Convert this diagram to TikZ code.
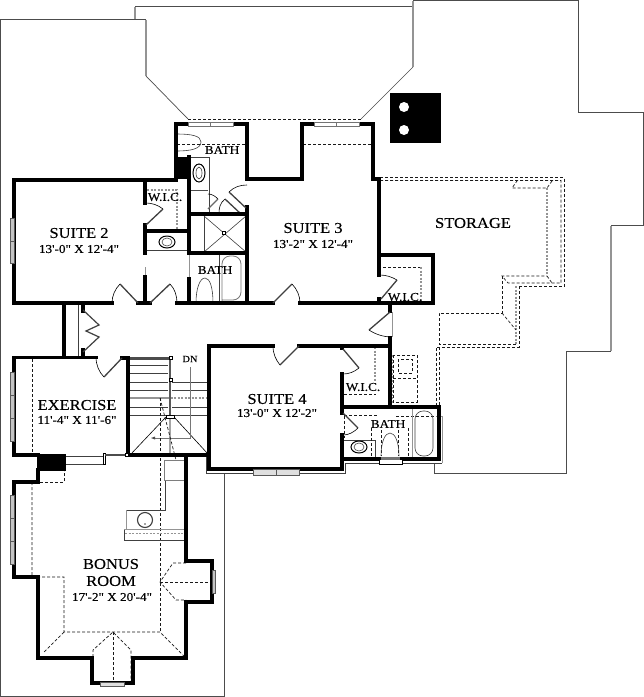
\documentclass[tikz,border=0pt]{standalone}
\usepackage{fontspec}
\newfontfamily\planfont[FakeStretch=1.1,FakeBold=0.25]{Liberation Serif}
\usetikzlibrary{calc}
\definecolor{rf}{gray}{0.3}
\definecolor{gw}{gray}{0.58}
\tikzset{
 wall/.style={line width=3.6pt,black,line join=miter,line cap=rect},
 doorleaf/.style={line width=1.3pt,black!75},
 swing/.style={line width=0.6pt,black},
 thin/.style={line width=0.6pt,black!75},
 roof/.style={line width=0.9pt,rf},
 roofg/.style={line width=1.2pt,gw},
 hid/.style={line width=0.7pt,black!90,dash pattern=on 3pt off 2pt},
 gdash/.style={line width=1.3pt,gw,dash pattern=on 2pt off 1.5pt},
 grayline/.style={line width=1pt,gw},
 win/.style={line width=0.6pt,black!65,fill=gw!55},
 winw/.style={line width=0.8pt,black!55,fill=white},
 bigl/.style={font=\planfont\fontsize{15}{15}\selectfont,inner sep=0pt},
 diml/.style={font=\planfont\fontsize{12}{12}\selectfont,inner sep=0pt},
 smalll/.style={font=\planfont\fontsize{12}{12}\selectfont,inner sep=0pt},
 dnl/.style={font=\planfont\fontsize{9.5}{10}\selectfont,inner sep=0pt},
 post/.style={line width=0.5pt,black,fill=white},
}
\begin{document}
\begin{tikzpicture}[x=1pt,y=-1pt]
\useasboundingbox (0,0) rectangle (644,697);
\fill[white] (0,0) rectangle (644,697);
% ---- roof outline
\draw[roof] (224,473) -- (224,696.5) -- (0.5,696.5) -- (0.5,19.5) -- (146,19.5);
\draw[roofg] (146,19.5) -- (146,76);
\draw[roof,line width=0.7pt] (146,76) -- (188,119);
\draw[hid] (188,119) -- (361,119);
\draw[roof,line width=0.6pt] (361,119) -- (413,67);
\draw[roofg] (135,19) -- (135,6.5);
\draw[roof] (135,6.5) -- (413,6.5);
\draw[roofg] (413,67) -- (413,0.5);
\draw[roof] (413,0.5) -- (578.5,0.5) -- (578.5,112.5) -- (643.5,112.5) -- (643.5,225.5) -- (611,225.5);
\draw[roofg] (611,225.5) -- (611,351);
\draw[roof] (611,351) -- (566.5,351) -- (566.5,473) -- (434,473) -- (434,463);
\draw[thin] (206,457) -- (206,473) -- (345,473) -- (345,463) -- (442,463);
\draw[grayline] (442,463) -- (442,416) -- (436,416);
% ---- chimney
\fill[black] (390,93) rectangle (441,143);
\fill[white] (404,107) circle (5) (404,130) circle (5);
% ---- storage hidden lines
\draw[hid] (380,177.5) -- (564,177.5) -- (564,286) -- (519,286);
\draw[hid] (380,180.5) -- (561,180.5) -- (561,283) -- (508,283) -- (502,276) -- (547,276);
\draw[gdash] (547,188) -- (547,275);
\draw[hid] (552,181) -- (547,188) -- (512,188) -- (517,181);
\draw[hid] (547,276) -- (552,283);
\draw[gdash] (516,286) -- (516,345);
\draw[hid] (519,286) -- (519,347) -- (436,347) -- (436,405);
\draw[hid] (502,276) -- (502,313) -- (439,313) -- (439,344) -- (516,344);
\draw[hid] (502,313) -- (516,330);
\draw[hid] (439.5,347) -- (439.5,405);
% ---- dashed plumbing box
\draw[hid] (393,355) rectangle (417,402);
\draw[hid] (393,378) -- (417,378);
\draw[hid] (398,359) rectangle (412,373);
\draw[gdash] (392,355) -- (392,403);
% ---- thin interior details
\draw[hid] (177,144) -- (247,144);
\draw[hid] (303,144) -- (372,144);
\draw[thin] (177,134) .. controls (192,134) and (201,136) .. (201,142) .. controls (201,149) and (190,151) .. (177,151);
\draw[thin] (190,157.5) -- (209,157.5) -- (209,213);
\draw[line width=1pt] (199,173) ellipse (6 and 9);
\draw[thin] (199,173) ellipse (3 and 6);
\draw[line width=1pt,black!70] (191,190.5) -- (208,190.5);
\draw[thin] (191,212) -- (208,212);
\draw[doorleaf,gw!70!black] (208,209) -- (218,199);
\draw[swing] (218,199) .. controls (215,196) and (212,194) .. (208,194);
\draw[doorleaf] (225,199) -- (241,214);
\draw[swing] (225,199) .. controls (220,203) and (219,208) .. (219,213);
\draw[thin,gw] (219,212) -- (241,212);
\draw[thin] (204,216) -- (204,252);
\draw[thin] (204,216) -- (246,252) (246,216) -- (204,252);
\draw[post] (222.5,231.5) rectangle (225.5,234.5);
\draw[thin] (219,253) -- (219,303);
\draw[line width=0.8pt,gw!80!black,rounded corners=8pt] (222,302) -- (222,256) -- (241,256) -- (241,300) -- (222,300);
\draw[thin] (196,303) .. controls (196,288) and (200,278) .. (205,278) .. controls (210,278) and (213,288) .. (213,303);
\draw[gdash] (147,190) -- (177,190) -- (177,229);
\draw[thin] (145,250) -- (189,250);
\draw[line width=1pt] (167,242) ellipse (8 and 6);
\draw[thin] (167,242) ellipse (5 and 4);
\draw[grayline] (189,253) -- (189,279);
\draw[grayline] (145,267) -- (145,277);
\draw[hid] (383,267) -- (421,267);
\draw[gdash] (421,267) -- (421,301);
\draw[thin] (78,303) -- (78,356);
% ---- stairs
\foreach \yy in {365,373,382,390,407,415} \draw[thin] (130,\yy) -- (168,\yy);
\foreach \yy in {382,390,407,415} \draw[thin] (172,\yy) -- (209,\yy);
\draw[grayline,line width=1.2pt] (130,398) -- (169,398);
\draw[gdash] (160,398) -- (209,398);
\draw[line width=2.4pt,gw!60!black] (170,358) -- (170,416);
\draw[line width=3pt,black!70] (128,358) -- (170,358);
\draw[post] (169.5,356.5) rectangle (172.5,359.5);
\draw[post] (169.5,378.5) rectangle (172.5,381.5);
\draw[post] (166,415) rectangle (174,418);
\draw[line width=0.6pt] (166,417) -- (131,454) (174,417) -- (208,454) (170,418) -- (170,455);
\draw[thin,gw!80!black] (190,367) -- (190,438) -- (154,438);
\fill[black!70] (151,438) -- (155,436.5) -- (155,439.5) -- cycle;
\draw[hid] (160,398) -- (160,632);
\draw[hid] (160,398) -- (176,460);
% ---- bonus details
\draw[line width=0.9pt,gw!85!black] (164,460.5) rectangle (184,480.5);
\draw[thin] (165.5,481) -- (165.5,510) -- (126,510);
\draw[grayline] (126,510) -- (126,529);
\draw[grayline] (124,529.5) -- (185,529.5);
\draw[thin] (124,529.5) -- (124,540) -- (185,540);
\draw[gdash,line width=1pt] (125,533) -- (185,533);
\draw[line width=1.1pt,black!75] (145,520) circle (7.5);
\fill[black!70] (145,524) circle (0.8);
\draw[hid] (32,359) -- (32,455);
\draw[hid] (32,482) -- (32,577) -- (64,577) -- (64,632) -- (160,632) -- (184,656);
\draw[hid] (64,632) -- (44,652);
\draw[hid] (40,482) -- (64,482) -- (64,471);
\draw[hid] (93,682) -- (93,650) -- (113,632) -- (131,650) -- (131,682);
\draw[hid] (113,632) -- (113,682);
\draw[hid] (186,563) -- (173,563) -- (160,582) -- (176,600) -- (186,600);
\draw[hid] (160,582) -- (210,582);
% ---- Suite 4 bath
\draw[thin] (344,440) -- (375,440) -- (375,458);
\draw[line width=1pt] (359,447) ellipse (8 and 6);
\draw[thin] (359,447) ellipse (5 and 4);
\draw[hid] (344,415.5) -- (378,415.5);
\draw[hid] (344,415.5) -- (344,438);
\draw[hid] (396,416) -- (436,416);
\draw[hid] (371,428) -- (371,458) (381,430) -- (381,456) (398,430) -- (398,456) (408,428) -- (408,458);
\draw[thin,line width=0.9pt,gw] (412,408) -- (412,458);
\draw[thin,rounded corners=8pt] (415,456) rectangle (433,411);
\draw[thin] (381,456) .. controls (381,442) and (385,433) .. (390,433) .. controls (395,433) and (399,442) .. (399,456);
% ---- Suite 4 WIC
\draw[gdash] (375,347) -- (375,381);
\draw[hid] (344,394.5) -- (376,394.5);
% ---- walls
\draw[wall] (112,303) -- (14,303) -- (14,180) -- (176,180) -- (176,124) -- (247,124) -- (247,179) -- (302,179) -- (302,124) -- (373,124) -- (373,179) -- (379,179) -- (379,275);
\draw[wall] (379,299) -- (379,303);
\draw[wall] (379,255) -- (433,255) -- (433,303) -- (300,303);
\draw[wall] (273,303) -- (177,303);
\draw[wall] (150,303) -- (138,303);
\draw[wall] (145,180) -- (145,203);
\draw[wall] (145,225) -- (145,253);
\draw[wall] (145,277) -- (145,303);
\draw[wall] (145,231) -- (189,231);
\draw[wall] (189,157) -- (189,253);
\draw[wall] (189,279) -- (189,303);
\draw[wall] (189,214) -- (247,214);
\draw[wall] (189,253) -- (247,253);
\draw[wall] (247,207) -- (247,303);
\fill[black] (176,157) rectangle (190,179);
\draw[wall] (64,303) -- (64,357);
\draw[wall] (83,303) -- (83,311);
\draw[wall] (83,350) -- (83,357);
\draw[wall] (96,357.5) -- (14,357.5) -- (14,455) -- (38,455);
\draw[wall] (122,358) -- (128,358) -- (128,455) -- (209,455);
\fill[black] (37,454) rectangle (66,471);
\draw[wall] (38,470) -- (38,482) -- (14,482) -- (14,577) -- (38,577) -- (38,658) -- (92,658) -- (92,683) -- (133,683) -- (133,658) -- (186,658) -- (186,602) -- (212,602) -- (212,561) -- (186,561) -- (186,455);
\draw[wall] (273,346) -- (209,346) -- (209,469) -- (342,469) -- (342,435);
\draw[wall] (342,413) -- (342,374);
\draw[wall] (342,346) -- (342,348);
\draw[wall] (299,346) -- (390,346);
\draw[wall] (390,338) -- (390,407);
\draw[wall] (390,303) -- (390,311);
\draw[wall] (342,407) -- (439,407) -- (439,459) -- (342,459);
% ---- doors
\draw[doorleaf] (138,303) -- (120,284);
\draw[swing] (120,284) .. controls (115,289) and (112,296) .. (112,303);
\draw[doorleaf] (150,303) -- (170,284);
\draw[swing] (170,284) .. controls (175,289) and (177,296) .. (177,303);
\draw[doorleaf] (273,303) -- (292,284);
\draw[swing] (292,284) .. controls (297,289) and (300,296) .. (300,303);
\draw[doorleaf] (146,225) -- (163,209);
\draw[swing] (163,209) .. controls (158,205) and (152,203) .. (146,203);
\draw[doorleaf] (229,192) -- (246,208);
\draw[swing] (229,192) .. controls (234,187) and (240,185) .. (247,185);
\draw[doorleaf] (381,299) -- (397,280);
\draw[swing] (397,280) .. controls (392,277) and (386,275) .. (380,275);
\draw[grayline] (392,312) -- (392,337);
\draw[doorleaf] (390,312) -- (369,330);
\draw[swing] (369,330) .. controls (375,334) and (383,337) .. (392,337);
\draw[doorleaf] (299,346) -- (280,365);
\draw[swing] (280,365) .. controls (276,360) and (273,354) .. (273,346);
\draw[doorleaf] (343,349) -- (359,368);
\draw[swing] (359,368) .. controls (354,372) and (349,374) .. (343,374);
\draw[doorleaf] (343,413) -- (358,428);
\draw[swing] (358,428) .. controls (354,432) and (349,435) .. (343,435);
\draw[doorleaf] (122,358) -- (104,377);
\draw[swing] (104,377) .. controls (99,372) and (96,365) .. (96,357);
\draw[line width=1.2pt,black!75] (83,310) -- (99,325) -- (86,331) -- (99,337) -- (83,352);
% ---- exercise / bonus opening
\draw[thin] (66,456.5) -- (103,456.5) (66,464) -- (103,464);
\draw[post] (103,453.5) rectangle (105,464);
\draw[line width=1.6pt,black!70] (105,455) -- (125,455);
\draw[post] (125,453.5) rectangle (128,456.5);
% ---- windows
\foreach \ya/\yb in {218/241,241/263,372/395,395/418,418/441,495/518,518/541,541/564}
  \draw[win] (10,\ya) rectangle (14,\yb);
\draw[win] (212,570) rectangle (215,593);
\foreach \xa/\xb in {188/210.5,210.5/233,314/336.5,336.5/359}
  \draw[winw] (\xa,122.5) rectangle (\xb,126);
\foreach \xa/\xb in {253/276,276/299}
  \draw[win,fill=gw!30] (\xa,469) rectangle (\xb,475);
\draw[win,fill=gw!30] (100,682) rectangle (124,686);
\draw[line width=0.5pt,fill=white] (379,459) rectangle (402,464);
\fill[black!55] (381,456.5) rectangle (400,459.5);
% ---- labels
\node[bigl] (s2) at (79,233) {SUITE 2};
\node[diml] (s2d) at (79,249) {13'-0" X 12'-4"};
\node[bigl] (s3) at (313,228) {SUITE 3};
\node[diml] (s3d) at (313,244) {13'-2" X 12'-4"};
\node[bigl] (st) at (473,223) {STORAGE};
\node[bigl] (s4) at (277,399) {SUITE 4};
\node[diml] (s4d) at (277,413) {13'-0" X 12'-2"};
\node[bigl] (ex) at (77,405) {EXERCISE};
\node[diml] (exd) at (77,420) {11'-4" X 11'-6"};
\node[bigl] (bo) at (111,564) {BONUS};
\node[bigl] (ro) at (111,581) {ROOM};
\node[diml] (bod) at (112,597) {17'-2" X 20'-4"};
\node[smalll] (w1) at (165,197) {W.I.C.};
\node[smalll] (w2) at (405,297) {W.I.C.};
\node[smalll] (w3) at (363,387) {W.I.C.};
\node[smalll] (b1) at (222,150) {BATH};
\node[smalll] (b2) at (215,270) {BATH};
\node[smalll] (b3) at (388,424) {BATH};
\node[dnl] (dn) at (190,359) {DN};
\end{tikzpicture}
\end{document}
